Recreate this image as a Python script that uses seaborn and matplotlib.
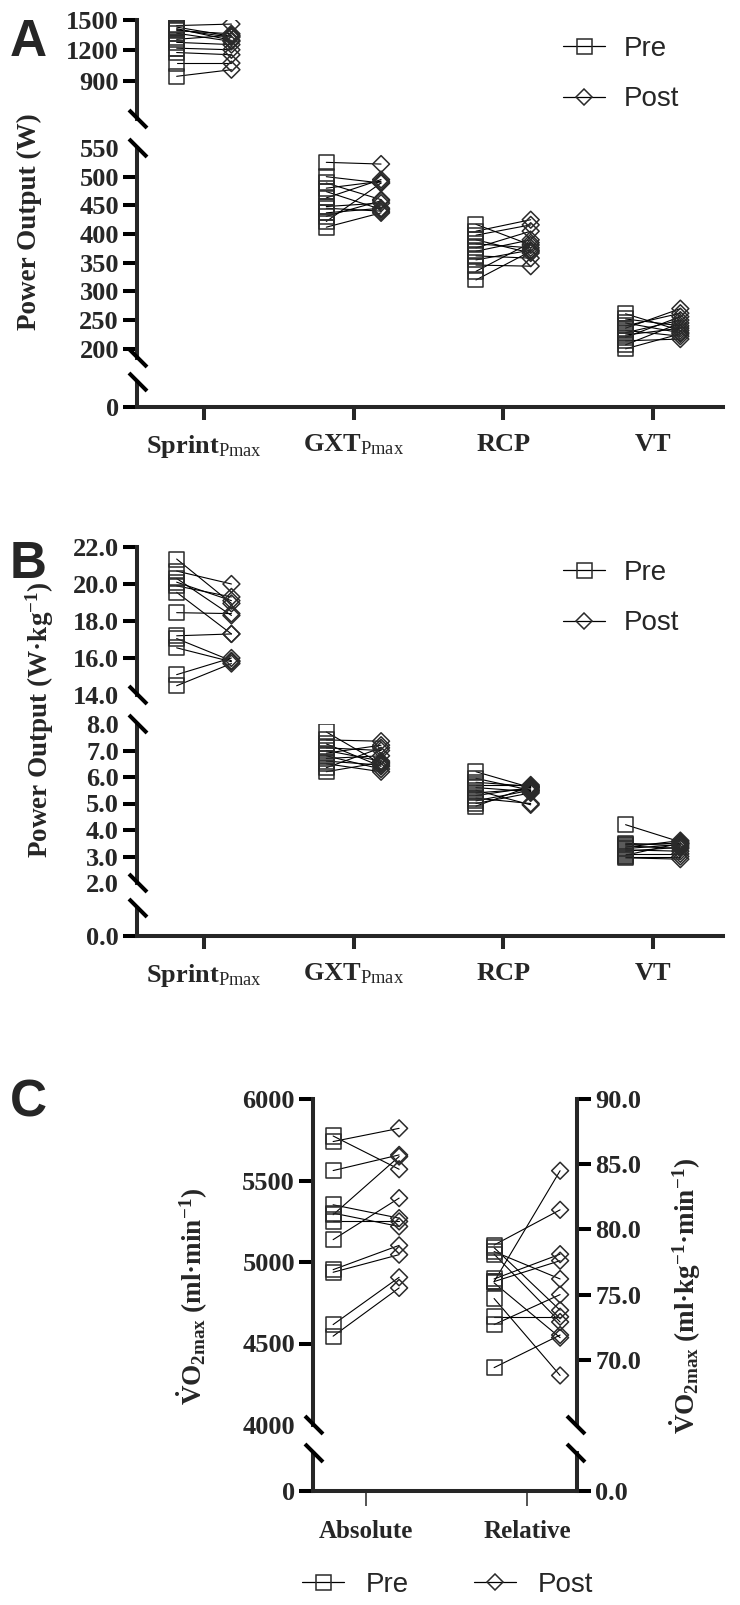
import numpy as np
import pandas as pd
import matplotlib
matplotlib.use("Agg")
import matplotlib.pyplot as plt
from matplotlib.lines import Line2D
import seaborn as sns

# values (12 athletes, pre vs post)
cat_labels = [r"Sprint$_{\mathrm{Pmax}}$", r"GXT$_{\mathrm{Pmax}}$", "RCP", "VT"]

# Panel A - power output (W)
sprint_w_pre = [1445, 1430, 1415, 1405, 1395, 1370, 1310, 1280, 1223, 1180, 1076, 946]
sprint_w_post = [1460, 1340, 1300, 1330, 1365, 1290, 1350, 1258, 1207, 1158, 1076, 1011]
gxt_w_pre = [525, 500, 489, 480, 474, 463, 448, 445, 437, 431, 422, 412]
gxt_w_post = [522, 489, 460, 492, 443, 495, 454, 440, 445, 458, 489, 437]
rcp_w_pre = [417, 405, 398, 390, 383, 376, 370, 362, 355, 346, 335, 320]
rcp_w_post = [381, 425, 416, 367, 376, 405, 390, 358, 372, 344, 385, 370]
vt_w_pre = [261, 252, 245, 240, 236, 232, 228, 224, 220, 214, 207, 200]
vt_w_post = [232, 240, 228, 262, 270, 222, 250, 236, 256, 217, 245, 226]

# Panel B - power output (W/kg)
sprint_wkg_pre = [21.35, 20.7, 20.3, 20.1, 19.9, 19.55, 18.45, 17.2, 17.05, 16.55, 15.1, 14.5]
sprint_wkg_post = [18.95, 20.0, 18.3, 19.1, 19.3, 17.3, 18.4, 17.3, 15.85, 15.8, 16.0, 15.7]
gxt_wkg_pre = [7.7, 7.4, 7.25, 7.1, 7.0, 6.9, 6.8, 6.7, 6.6, 6.5, 6.35, 6.2]
gxt_wkg_post = [6.5, 7.35, 6.4, 7.0, 6.6, 7.2, 6.3, 6.8, 6.45, 6.2, 7.1, 6.55]
rcp_wkg_pre = [6.2, 5.95, 5.8, 5.7, 5.6, 5.5, 5.4, 5.3, 5.2, 5.1, 5.0, 4.9]
rcp_wkg_post = [5.6, 5.5, 5.65, 5.7, 5.45, 4.95, 5.55, 5.6, 5.0, 5.5, 5.4, 5.65]
vt_wkg_pre = [4.2, 3.5, 3.45, 3.4, 3.35, 3.3, 3.25, 3.2, 3.1, 3.05, 3.0, 2.95]
vt_wkg_post = [3.55, 3.4, 3.5, 3.3, 3.6, 3.45, 3.2, 3.35, 3.1, 3.5, 3.0, 2.9]

# Panel C - VO2max
vo2_abs_pre = [5739, 5773, 5561, 5351, 5290, 5249, 5300, 5137, 4953, 4937, 4616, 4545]
vo2_abs_post = [5820, 5569, 5657, 5269, 5647, 5249, 5218, 5392, 5102, 5045, 4906, 4841]
vo2_rel_pre = [76.0, 78.8, 76.2, 76.0, 78.3, 72.7, 78.6, 73.3, 78.1, 69.4, 75.9, 74.7]
vo2_rel_post = [84.5, 81.5, 78.1, 77.6, 76.2, 75.0, 73.8, 73.3, 72.9, 71.9, 71.7, 68.8]

sns.set_style("ticks")
plt.rcParams["font.family"] = ["Liberation Serif", "DejaVu Serif"]
plt.rcParams["mathtext.fontset"] = "custom"
plt.rcParams["mathtext.rm"] = "Liberation Serif"
plt.rcParams["mathtext.bf"] = "Liberation Serif:bold"
plt.rcParams["mathtext.it"] = "Liberation Serif:italic"

W, H = 740, 1605
LW = 2.9
SANS = "Liberation Sans"


def pairs_frame(groups, off):
    rows = []
    for ci, (pre, post) in enumerate(groups):
        for si, (a, b) in enumerate(zip(pre, post)):
            rows.append({"cat": ci, "unit": f"{ci}-{si}", "time": "Pre", "x": ci - off, "value": a})
            rows.append({"cat": ci, "unit": f"{ci}-{si}", "time": "Post", "x": ci + off, "value": b})
    return pd.DataFrame(rows)


def draw_pairs(ax, df):
    sns.lineplot(data=df, x="x", y="value", units="unit", estimator=None,
                 color="black", linewidth=0.8, ax=ax, legend=False)
    sns.scatterplot(data=df[df.time == "Pre"], x="x", y="value", marker="s", s=117,
                    facecolors="none", edgecolor="#2a2a2a", linewidth=1.1, ax=ax, zorder=3)
    sns.scatterplot(data=df[df.time == "Post"], x="x", y="value", marker="D", s=74,
                    facecolors="none", edgecolor="#2a2a2a", linewidth=1.1, ax=ax, zorder=3)
    ax.set(xlabel="", ylabel="")


def add_ax(x0, y0, x1, y1):
    ax = fig.add_axes([x0 / W, 1 - y1 / H, (x1 - x0) / W, (y1 - y0) / H])
    ax.set_facecolor("none")
    return ax


def style_seg(ax, xlim, ylim, ticks, fmt, bottom=False, hide=()):
    ax.set_xlim(xlim)
    ax.set_ylim(ylim)
    sns.despine(ax=ax, bottom=not bottom)
    for s in ("left", "bottom"):
        ax.spines[s].set_linewidth(LW)
    ax.set_yticks(ticks, labels=[fmt % v for v in ticks], fontsize=19, fontweight="bold")
    ax.tick_params(axis="y", length=10, width=LW, pad=3, color="black")
    for tk, v in zip(ax.yaxis.get_major_ticks(), ticks):
        if v in hide:
            tk.tick1line.set_visible(False)
    if not bottom:
        ax.tick_params(axis="x", bottom=False, labelbottom=False)


def brk(x, y, d=9):
    fig.add_artist(Line2D([(x - d) / W, (x + d) / W], [1 - (y - d) / H, 1 - (y + d) / H],
                          transform=fig.transFigure, color="black", lw=LW,
                          solid_capstyle="butt"))


def legend_handles():
    pre = Line2D([], [], color="black", lw=0.9, marker="s", ms=10.8, mfc="none",
                 mec="#2a2a2a", mew=1.1)
    post = Line2D([], [], color="black", lw=0.9, marker="D", ms=8.6, mfc="none",
                  mec="#2a2a2a", mew=1.1)
    return [pre, post]


fig = plt.figure(figsize=(W / 100, H / 100), dpi=100)

XL = (-0.448, 3.468)
OFF = 0.183
XA0, XA1 = 137, 723

# ---------------- Panel A ----------------
dfA = pairs_frame([(sprint_w_pre, sprint_w_post), (gxt_w_pre, gxt_w_post),
                   (rcp_w_pre, rcp_w_post), (vt_w_pre, vt_w_post)], OFF)
a1 = add_ax(XA0, 20, XA1, 119)
a2 = add_ax(XA0, 148, XA1, 358)
a3 = add_ax(XA0, 382, XA1, 407)
draw_pairs(a1, dfA[dfA.cat == 0])
draw_pairs(a2, dfA[dfA.cat > 0])
style_seg(a1, XL, (526, 1500), [900, 1200, 1500], "%d")
style_seg(a2, XL, (184, 550), list(range(200, 551, 50)), "%d", hide=(550,))
style_seg(a3, XL, (0, 1), [0], "%d", bottom=True)
a3.set_xticks(range(4), labels=cat_labels, fontsize=19, fontweight="bold")
a3.tick_params(axis="x", length=9.5, width=LW, pad=9)
for y in (119, 148, 358, 382):
    brk(XA0 + 1, y)
fig.text(29 / W, 1 - 222 / H, "Power Output (W)", rotation=90, ha="center", va="center",
         fontsize=19.5, fontweight="bold")
fig.text(28 / W, 1 - 42 / H, "A", ha="center", va="center", fontsize=37,
         fontweight="bold", family=SANS)
fig.legend(legend_handles(), ["Pre", "Post"], loc="center left",
           bbox_to_anchor=(563 / W, 1 - 74 / H), frameon=False, borderpad=0,
           borderaxespad=0, handlelength=1.5, handletextpad=0.7, labelspacing=0.9,
           prop={"family": SANS, "size": 20})

# ---------------- Panel B ----------------
dfB = pairs_frame([(sprint_wkg_pre, sprint_wkg_post), (gxt_wkg_pre, gxt_wkg_post),
                   (rcp_wkg_pre, rcp_wkg_post), (vt_wkg_pre, vt_wkg_post)], OFF)
b1 = add_ax(XA0, 547, XA1, 695)
b2 = add_ax(XA0, 724, XA1, 883)
b3 = add_ax(XA0, 908, XA1, 936)
draw_pairs(b1, dfB[dfB.cat == 0])
draw_pairs(b2, dfB[dfB.cat > 0])
style_seg(b1, XL, (14, 22), [14, 16, 18, 20, 22], "%.1f", hide=(14,))
style_seg(b2, XL, (2, 8), [2, 3, 4, 5, 6, 7, 8], "%.1f", hide=(2, 8))
style_seg(b3, XL, (0, 1), [0], "%.1f", bottom=True)
b3.set_xticks(range(4), labels=cat_labels, fontsize=19, fontweight="bold")
b3.tick_params(axis="x", length=9.5, width=LW, pad=9)
for y in (695, 724, 883, 908):
    brk(XA0 + 1, y)
fig.text(40 / W, 1 - 720 / H, r"Power Output (W·kg$^{\mathbf{-1}}$)", rotation=90,
         ha="center", va="center", fontsize=19.5, fontweight="bold")
fig.text(28 / W, 1 - 564 / H, "B", ha="center", va="center", fontsize=37,
         fontweight="bold", family=SANS)
fig.legend(legend_handles(), ["Pre", "Post"], loc="center left",
           bbox_to_anchor=(563 / W, 1 - 598 / H), frameon=False, borderpad=0,
           borderaxespad=0, handlelength=1.5, handletextpad=0.7, labelspacing=0.9,
           prop={"family": SANS, "size": 20})

# ---------------- Panel C ----------------
OFFC = 0.205
XLC = (-0.33, 1.31)
XC0, XC1 = 313, 577
dfC_abs = pairs_frame([(vo2_abs_pre, vo2_abs_post)], OFFC)
dfC_rel = pairs_frame([([], []), (vo2_rel_pre, vo2_rel_post)], OFFC)

c1 = add_ax(XC0, 1099, XC1, 1425)
c2 = add_ax(XC0, 1453, XC1, 1491)
c1r = c1.twinx()
c2r = c2.twinx()
for ax in (c1r, c2r):
    ax.set_facecolor("none")
draw_pairs(c1, dfC_abs)
draw_pairs(c1r, dfC_rel)
style_seg(c1, XLC, (4000, 6000), [4000, 4500, 5000, 5500, 6000], "%d", hide=(4000,))
style_seg(c2, XLC, (0, 1), [0], "%d", bottom=True)
for ax, ylim, ticks in ((c1r, (65, 90), [70, 75, 80, 85, 90]), (c2r, (0, 1), [0])):
    ax.set_xlim(XLC)
    ax.set_ylim(ylim)
    for s in ("left", "top", "bottom"):
        ax.spines[s].set_visible(False)
    ax.spines["right"].set_linewidth(LW)
    ax.set_yticks(ticks, labels=["%.1f" % v for v in ticks], fontsize=19, fontweight="bold")
    ax.tick_params(axis="y", length=10, width=LW, pad=3, color="black")
    ax.set(ylabel="")
c2.set_xticks([0, 1], labels=["Absolute", "Relative"], fontsize=18, fontweight="bold")
c2.tick_params(axis="x", length=11, width=1.1, pad=10)
for y in (1425, 1453):
    brk(XC0 + 1, y)
    brk(XC1 - 1, y)
fig.text(192 / W, 1 - 1296 / H, r"$\mathbf{\dot{V}O_{2max}}$ (ml·min$^{\mathbf{-1}}$)",
         rotation=90, ha="center", va="center", fontsize=19.5, fontweight="bold")
fig.text(685 / W, 1 - 1296 / H,
         r"$\mathbf{\dot{V}O_{2max}}$ (ml·kg$^{\mathbf{-1}}$·min$^{\mathbf{-1}}$)",
         rotation=90, ha="center", va="center", fontsize=19.5, fontweight="bold")
fig.text(28 / W, 1 - 1103 / H, "C", ha="center", va="center", fontsize=37,
         fontweight="bold", family=SANS)
fig.legend(legend_handles(), ["Pre", "Post"], loc="center left", ncol=2,
           bbox_to_anchor=(302 / W, 1 - 1585 / H), frameon=False, borderpad=0,
           borderaxespad=0, handlelength=1.5, handletextpad=0.8, columnspacing=2.35,
           prop={"family": SANS, "size": 20})

fig.savefig("out.png", dpi=100)
